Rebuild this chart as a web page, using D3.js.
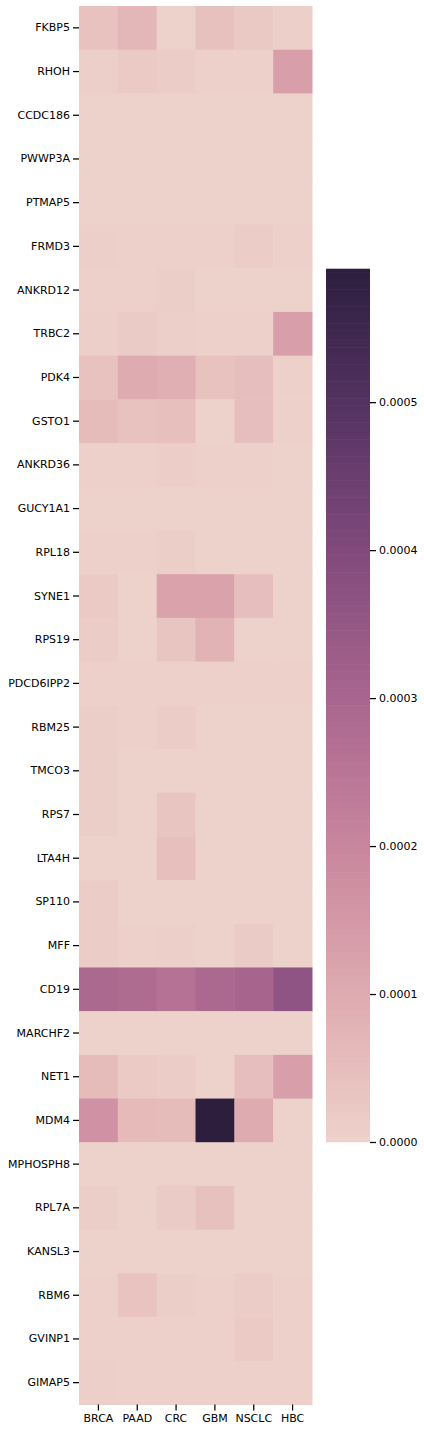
<!DOCTYPE html>
<html>
<head>
<meta charset="utf-8">
<script src="https://cdn.jsdelivr.net/npm/d3@7"></script>
<style>
  html, body { margin: 0; padding: 0; background: #fff; }
  svg text { font-family: "DejaVu Sans", sans-serif; fill: #000; }
</style>
</head>
<body>
<svg id="chart" width="424" height="1432"></svg>
<script>
const genes = ["FKBP5","RHOH","CCDC186","PWWP3A","PTMAP5","FRMD3","ANKRD12","TRBC2","PDK4","GSTO1","ANKRD36","GUCY1A1","RPL18","SYNE1","RPS19","PDCD6IPP2","RBM25","TMCO3","RPS7","LTA4H","SP110","MFF","CD19","MARCHF2","NET1","MDM4","MPHOSPH8","RPL7A","KANSL3","RBM6","GVINP1","GIMAP5"];
const cancers = ["BRCA","PAAD","CRC","GBM","NSCLC","HBC"];

// values per gene, columns in order BRCA, PAAD, CRC, GBM, NSCLC, HBC
const valFKBP5     = [0.000040, 0.000070, 0.000001, 0.000042, 0.000025, 0.000005];
const valRHOH      = [0.000005, 0.000020, 0.000012, 0.000003, 0.000003, 0.000130];
const valCCDC186   = [0.000002, 0.000002, 0.000002, 0.000002, 0.000002, 0.000002];
const valPWWP3A    = [0.000001, 0.000001, 0.000001, 0.000001, 0.000001, 0.000001];
const valPTMAP5    = [0.000001, 0.000001, 0.000001, 0.000001, 0.000001, 0.000001];
const valFRMD3     = [0.000006, 0.000003, 0.000003, 0.000003, 0.000012, 0.000003];
const valANKRD12   = [0.000004, 0.000003, 0.000008, 0.000002, 0.000002, 0.000002];
const valTRBC2     = [0.000005, 0.000018, 0.000006, 0.000003, 0.000003, 0.000130];
const valPDK4      = [0.000040, 0.000100, 0.000088, 0.000040, 0.000050, 0.000003];
const valGSTO1     = [0.000055, 0.000040, 0.000045, 0.000002, 0.000050, 0.000003];
const valANKRD36   = [0.000004, 0.000003, 0.000010, 0.000003, 0.000003, 0.000002];
const valGUCY1A1   = [0.000002, 0.000002, 0.000002, 0.000002, 0.000002, 0.000002];
const valRPL18     = [0.000003, 0.000003, 0.000009, 0.000002, 0.000002, 0.000002];
const valSYNE1     = [0.000020, 0.000002, 0.000120, 0.000120, 0.000050, 0.000002];
const valRPS19     = [0.000015, 0.000002, 0.000030, 0.000080, 0.000001, 0.000001];
const valPDCD6IPP2 = [0.000003, 0.000003, 0.000003, 0.000003, 0.000003, 0.000003];
const valRBM25     = [0.000007, 0.000003, 0.000012, 0.000002, 0.000002, 0.000002];
const valTMCO3     = [0.000007, 0.000002, 0.000002, 0.000002, 0.000002, 0.000002];
const valRPS7      = [0.000008, 0.000002, 0.000030, 0.000001, 0.000001, 0.000001];
const valLTA4H     = [0.000002, 0.000002, 0.000045, 0.000001, 0.000001, 0.000001];
const valSP110     = [0.000012, 0.000002, 0.000002, 0.000002, 0.000002, 0.000002];
const valMFF       = [0.000012, 0.000003, 0.000006, 0.000002, 0.000018, 0.000002];
const valCD19      = [0.000290, 0.000280, 0.000260, 0.000290, 0.000300, 0.000360];
const valMARCHF2   = [0.000001, 0.000001, 0.000001, 0.000001, 0.000001, 0.000001];
const valNET1      = [0.000055, 0.000020, 0.000012, 0.000002, 0.000050, 0.000130];
const valMDM4      = [0.000170, 0.000060, 0.000055, 0.000590, 0.000100, 0.000002];
const valMPHOSPH8  = [0.000002, 0.000002, 0.000002, 0.000002, 0.000002, 0.000002];
const valRPL7A     = [0.000008, 0.000002, 0.000018, 0.000042, 0.000002, 0.000002];
const valKANSL3    = [0.000002, 0.000002, 0.000002, 0.000002, 0.000002, 0.000002];
const valRBM6      = [0.000004, 0.000038, 0.000008, 0.000003, 0.000015, 0.000003];
const valGVINP1    = [0.000003, 0.000004, 0.000003, 0.000003, 0.000020, 0.000003];
const valGIMAP5    = [0.000005, 0.000003, 0.000003, 0.000003, 0.000003, 0.000003];

const values = [valFKBP5, valRHOH, valCCDC186, valPWWP3A, valPTMAP5, valFRMD3, valANKRD12, valTRBC2,
  valPDK4, valGSTO1, valANKRD36, valGUCY1A1, valRPL18, valSYNE1, valRPS19, valPDCD6IPP2, valRBM25,
  valTMCO3, valRPS7, valLTA4H, valSP110, valMFF, valCD19, valMARCHF2, valNET1, valMDM4, valMPHOSPH8,
  valRPL7A, valKANSL3, valRBM6, valGVINP1, valGIMAP5];

const cbarTicks = [0, 0.0001, 0.0002, 0.0003, 0.0004, 0.0005];

// seaborn cubehelix_palette(as_cmap=True): start=0, rot=0.4, gamma=1, hue=0.8, light=0.85, dark=0.15
function cubehelix(x) {
  const s = 0, r = 0.4, h = 0.8, gamma = 1.0;
  const xg = Math.pow(x, gamma);
  const a = h * xg * (1 - xg) / 2;
  const phi = 2 * Math.PI * (s / 3 + r * x);
  const c = Math.cos(phi), sn = Math.sin(phi);
  const R = xg + a * (-0.14861 * c + 1.78277 * sn);
  const G = xg + a * (-0.29227 * c - 0.90649 * sn);
  const B = xg + a * (1.97294 * c);
  const cl = v => Math.max(0, Math.min(255, Math.round(v * 255)));
  return `rgb(${cl(R)},${cl(G)},${cl(B)})`;
}
const vmin = 0;
const vmax = d3.max(values.flat());
const color = v => {
  const t = (v - vmin) / (vmax - vmin);
  const idx = Math.min(255, Math.max(0, Math.floor(t * 256)));
  return cubehelix(0.85 + (0.15 - 0.85) * idx / 255);
};

const svg = d3.select("#chart");
const x = d3.scaleBand().domain(cancers).range([79, 312]);
const y = d3.scaleBand().domain(genes).range([6, 1404.5]);

const cells = [];
genes.forEach((g, i) => cancers.forEach((c, j) => cells.push({ g, c, v: values[i][j] })));

svg.append("g").selectAll("rect").data(cells).join("rect")
  .attr("x", d => x(d.c))
  .attr("y", d => y(d.g))
  .attr("width", x.bandwidth() + 0.5)
  .attr("height", y.bandwidth() + 0.5)
  .attr("fill", d => color(d.v));

// axes
const yAxis = d3.axisLeft(y).tickSize(6).tickPadding(3);
const gy = svg.append("g").attr("transform", "translate(79,0)").call(yAxis);
gy.select(".domain").remove();
gy.selectAll(".tick line").attr("stroke", "#000").attr("stroke-width", 1.25);
gy.selectAll(".tick text").attr("font-size", "11px").attr("font-family", "DejaVu Sans, sans-serif");

const xAxis = d3.axisBottom(x).tickSize(6).tickPadding(4);
const gx = svg.append("g").attr("transform", "translate(0,1404.5)").call(xAxis);
gx.select(".domain").remove();
gx.selectAll(".tick line").attr("stroke", "#000").attr("stroke-width", 1.25);
gx.selectAll(".tick text").attr("font-size", "11px").attr("font-family", "DejaVu Sans, sans-serif");

// colorbar
const cb = { x0: 326, x1: 370, top: 269, bottom: 1142 };
const cbScale = d3.scaleLinear().domain([vmin, vmax]).range([cb.bottom, cb.top]);
const nSteps = 256;
const steps = d3.range(nSteps).map(i => vmin + (vmax - vmin) * i / nSteps);
const stepH = (cb.bottom - cb.top) / nSteps;
svg.append("g").selectAll("rect").data(steps).join("rect")
  .attr("x", cb.x0)
  .attr("width", cb.x1 - cb.x0)
  .attr("y", d => cbScale(d) - stepH - 0.3)
  .attr("height", stepH + 0.6)
  .attr("fill", d => color(d + (vmax - vmin) / (2 * nSteps)));

const cbAxis = d3.axisRight(cbScale).tickValues(cbarTicks).tickFormat(d3.format(".4f")).tickSize(6).tickPadding(3);
const gc = svg.append("g").attr("transform", `translate(${cb.x1},0)`).call(cbAxis);
gc.select(".domain").remove();
gc.selectAll(".tick line").attr("stroke", "#000").attr("stroke-width", 1.25);
gc.selectAll(".tick text").attr("font-size", "11px").attr("font-family", "DejaVu Sans, sans-serif");
</script>
</body>
</html>
